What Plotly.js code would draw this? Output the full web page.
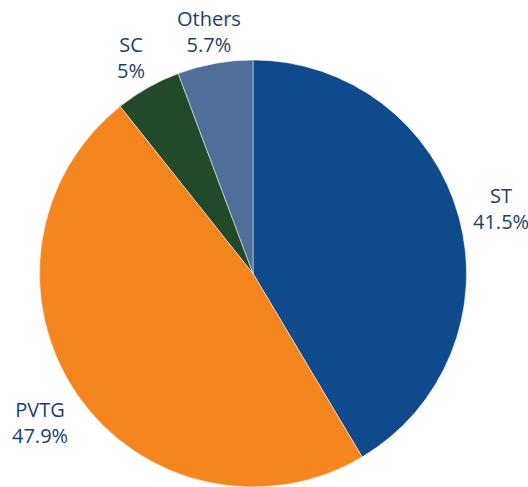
<!DOCTYPE html>
<html>
<head>
<meta charset="utf-8">
<script src="https://cdn.plot.ly/plotly-3.0.1.min.js"></script>
<style>html,body{margin:0;padding:0;background:#fff;}#chart{width:528px;height:487px;}</style>
</head>
<body>
<div id="chart"></div>
<script>
const categories = ["ST", "PVTG", "SC", "Others"];
const shares = [41.5, 47.9, 5, 5.7];
const colors = ["#0f4a8c", "#f5851f", "#22492a", "#4f6f9a"];

// label placement (pixel centres of each label block)
const labelPos = [[501, 208], [40, 422], [131, 58], [209, 32]];

const W = 528, H = 487;

const trace = {
  type: "pie",
  labels: categories,
  values: shares,
  textinfo: "none",
  sort: false,
  direction: "clockwise",
  rotation: 0,
  marker: { colors: colors, line: { color: "#ffffff", width: 0.5 } },
  automargin: false,
  domain: { x: [38/W, 468/W], y: [0, 1 - 60/H] },
  hoverinfo: "none"
};

const annotations = categories.map((c, i) => ({
  text: c + "<br>" + shares[i] + "%",
  xref: "paper", yref: "paper",
  x: labelPos[i][0] / W, y: 1 - labelPos[i][1] / H,
  xanchor: "center", yanchor: "middle",
  align: "center",
  showarrow: false,
  font: { family: "Open Sans, sans-serif", size: 20, color: "#1b3f6b" }
}));

const layout = {
  width: W, height: H,
  margin: { l: 0, r: 0, t: 0, b: 0 },
  showlegend: false,
  paper_bgcolor: "#ffffff",
  plot_bgcolor: "#ffffff",
  annotations: annotations
};

Plotly.newPlot("chart", [trace], layout, { displayModeBar: false, staticPlot: true });
</script>
</body>
</html>
